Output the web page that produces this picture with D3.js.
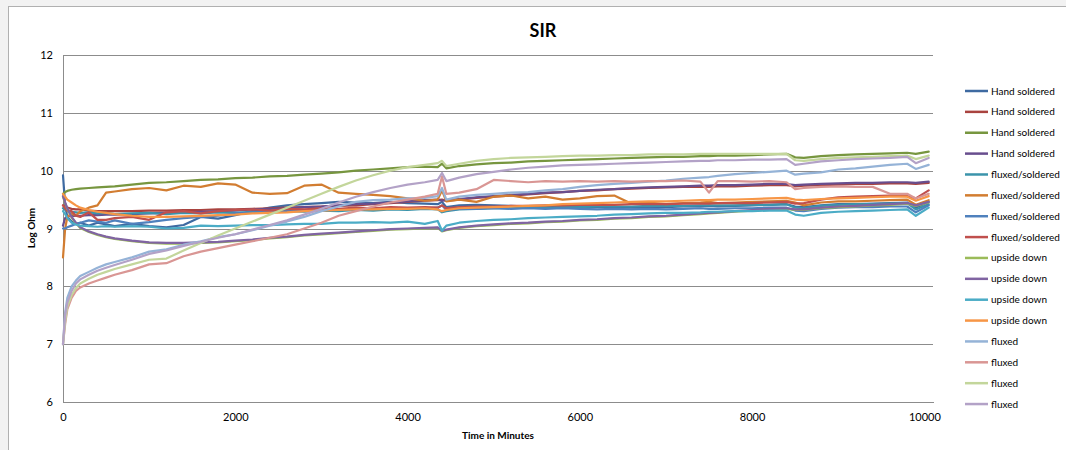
<!DOCTYPE html>
<html><head><meta charset="utf-8">
<script src="https://cdn.jsdelivr.net/npm/d3@7"></script>
<style>body{margin:0;background:#f2f2f2;} svg{display:block;font-family:Lato,"Open Sans",sans-serif;}</style>
</head><body><svg id="c" width="1066" height="450"></svg>
<script>
const times = [0,25,50,100,150,200,300,400,500,600,
  800,1000,1200,1400,1600,1800,2000,2200,2400,2600,
  2800,3000,3200,3400,3600,3800,4000,4200,4350,4400,
  4450,4600,4800,5000,5200,5400,5600,5800,6000,6200,
  6400,6600,6800,7000,7200,7400,7500,7600,7800,8000,
  8200,8400,8500,8600,8800,9000,9200,9400,9600,9800,9900,10050];

const hand1 = [9.92,9.40,9.20,9.12,9.08,9.10,9.05,9.10,9.07,9.04,
  9.08,9.04,9.02,9.06,9.20,9.17,9.23,9.30,9.36,9.40,
  9.42,9.44,9.46,9.45,9.44,9.46,9.44,9.43,9.42,9.46,
  9.37,9.40,9.41,9.40,9.39,9.38,9.38,9.37,9.36,9.37,
  9.37,9.36,9.36,9.37,9.38,9.38,9.39,9.38,9.39,9.40,
  9.41,9.42,9.38,9.37,9.40,9.42,9.42,9.43,9.44,9.45,9.36,9.46];
const hand2 = [9.40,9.38,9.36,9.34,9.33,9.33,9.31,9.30,9.30,9.30,
  9.30,9.31,9.31,9.32,9.32,9.33,9.33,9.34,9.35,9.36,
  9.37,9.38,9.39,9.40,9.42,9.44,9.46,9.48,9.49,9.50,
  9.48,9.50,9.53,9.55,9.57,9.59,9.61,9.63,9.65,9.66,
  9.68,9.69,9.70,9.71,9.72,9.72,9.72,9.73,9.73,9.74,
  9.75,9.75,9.73,9.74,9.75,9.76,9.77,9.77,9.78,9.78,9.77,9.79];
const hand3 = [9.60,9.63,9.65,9.67,9.68,9.69,9.70,9.71,9.72,9.73,
  9.76,9.79,9.80,9.82,9.84,9.85,9.87,9.88,9.90,9.91,
  9.93,9.95,9.97,10.00,10.02,10.04,10.06,10.07,10.06,10.12,
  10.04,10.08,10.11,10.13,10.14,10.16,10.17,10.18,10.19,10.20,
  10.21,10.22,10.23,10.24,10.24,10.25,10.25,10.26,10.26,10.27,
  10.28,10.29,10.23,10.22,10.25,10.27,10.28,10.29,10.30,10.31,10.29,10.33];
const hand4 = [9.05,9.18,9.21,9.22,9.22,9.22,9.23,9.23,9.24,9.24,
  9.25,9.26,9.27,9.28,9.29,9.30,9.31,9.33,9.34,9.35,
  9.37,9.38,9.40,9.42,9.43,9.45,9.47,9.49,9.50,9.48,
  9.49,9.51,9.54,9.56,9.58,9.60,9.62,9.63,9.65,9.67,
  9.68,9.70,9.71,9.72,9.73,9.74,9.74,9.75,9.75,9.76,
  9.77,9.77,9.75,9.76,9.77,9.78,9.79,9.79,9.80,9.80,9.79,9.81];
const fluxSold1 = [9.35,9.32,9.30,9.29,9.28,9.27,9.28,9.26,9.27,9.25,
  9.26,9.27,9.25,9.27,9.26,9.28,9.27,9.29,9.28,9.30,
  9.29,9.31,9.30,9.32,9.31,9.33,9.32,9.34,9.33,9.28,
  9.30,9.33,9.34,9.35,9.35,9.36,9.36,9.37,9.37,9.38,
  9.38,9.38,9.39,9.39,9.39,9.40,9.40,9.40,9.40,9.41,
  9.41,9.42,9.36,9.35,9.39,9.41,9.42,9.42,9.43,9.44,9.33,9.42];
const fluxSold2 = [8.50,9.00,9.20,9.26,9.22,9.30,9.36,9.40,9.62,9.64,
  9.68,9.70,9.66,9.74,9.72,9.78,9.76,9.62,9.60,9.61,
  9.74,9.76,9.62,9.60,9.58,9.56,9.52,9.48,9.50,9.66,
  9.47,9.50,9.46,9.55,9.57,9.52,9.55,9.50,9.52,9.56,
  9.57,9.43,9.45,9.42,9.44,9.45,9.46,9.44,9.45,9.46,
  9.47,9.48,9.45,9.40,9.45,9.47,9.47,9.48,9.49,9.50,9.41,9.49];
const fluxSold3 = [9.00,9.00,9.02,9.05,9.08,9.10,9.14,9.12,9.10,9.14,
  9.08,9.11,9.15,9.18,9.20,9.22,9.26,9.28,9.29,9.30,
  9.31,9.32,9.32,9.33,9.34,9.34,9.35,9.35,9.36,9.40,
  9.32,9.34,9.34,9.35,9.34,9.35,9.34,9.35,9.34,9.33,
  9.34,9.33,9.34,9.33,9.34,9.35,9.34,9.34,9.35,9.35,
  9.36,9.36,9.31,9.30,9.34,9.36,9.37,9.37,9.38,9.38,9.28,9.40];
const fluxSold4 = [9.40,9.35,9.30,9.30,9.22,9.20,9.28,9.15,9.15,9.18,
  9.20,9.15,9.28,9.30,9.26,9.30,9.32,9.33,9.31,9.34,
  9.33,9.35,9.34,9.36,9.35,9.37,9.36,9.37,9.36,9.40,
  9.35,9.37,9.38,9.38,9.39,9.39,9.40,9.40,9.41,9.41,
  9.41,9.42,9.42,9.42,9.43,9.43,9.43,9.44,9.44,9.44,
  9.45,9.46,9.43,9.44,9.50,9.54,9.55,9.56,9.57,9.56,9.52,9.66];
const upside1 = [9.55,9.44,9.34,9.19,9.09,9.01,8.94,8.89,8.85,8.82,
  8.78,8.75,8.74,8.74,8.75,8.76,8.78,8.80,8.83,8.85,
  8.88,8.90,8.92,8.94,8.96,8.98,8.99,9.00,9.01,8.95,
  8.97,9.01,9.04,9.06,9.08,9.09,9.11,9.12,9.14,9.15,
  9.17,9.18,9.20,9.21,9.23,9.25,9.26,9.27,9.29,9.31,
  9.33,9.34,9.32,9.32,9.35,9.37,9.38,9.40,9.41,9.43,9.39,9.45];
const upside2 = [9.56,9.45,9.35,9.20,9.10,9.02,8.95,8.90,8.86,8.83,
  8.79,8.76,8.75,8.75,8.76,8.77,8.79,8.81,8.84,8.86,
  8.89,8.91,8.93,8.95,8.97,8.99,9.00,9.01,9.02,8.96,
  8.98,9.02,9.05,9.07,9.09,9.10,9.12,9.13,9.15,9.16,
  9.18,9.19,9.21,9.22,9.24,9.26,9.27,9.28,9.30,9.32,
  9.34,9.35,9.33,9.33,9.36,9.38,9.39,9.41,9.42,9.44,9.40,9.46];
const upside3 = [9.30,9.25,9.18,9.10,9.07,9.05,9.04,9.03,9.04,9.03,
  9.04,9.03,9.00,9.01,9.05,9.04,9.05,9.06,9.06,9.07,
  9.08,9.08,9.10,9.10,9.11,9.10,9.12,9.08,9.13,8.96,
  9.05,9.10,9.13,9.15,9.16,9.18,9.19,9.20,9.21,9.22,
  9.24,9.25,9.26,9.27,9.27,9.28,9.29,9.29,9.30,9.30,
  9.31,9.31,9.24,9.22,9.27,9.29,9.30,9.31,9.32,9.33,9.22,9.36];
const upside4 = [9.60,9.55,9.50,9.45,9.40,9.36,9.32,9.29,9.27,9.25,
  9.22,9.20,9.20,9.21,9.22,9.23,9.24,9.26,9.27,9.28,
  9.30,9.31,9.32,9.33,9.33,9.34,9.34,9.35,9.33,9.30,
  9.32,9.35,9.36,9.37,9.38,9.39,9.40,9.42,9.43,9.44,
  9.45,9.46,9.47,9.47,9.48,9.49,9.49,9.50,9.50,9.51,
  9.52,9.53,9.50,9.49,9.51,9.52,9.53,9.54,9.55,9.55,9.48,9.56];
const fluxed1 = [7.00,7.55,7.80,8.00,8.10,8.18,8.25,8.32,8.38,8.42,
  8.50,8.60,8.64,8.72,8.78,8.85,8.90,8.97,9.05,9.12,
  9.20,9.30,9.38,9.46,9.49,9.50,9.52,9.53,9.56,9.70,
  9.50,9.55,9.58,9.60,9.62,9.63,9.66,9.68,9.72,9.75,
  9.77,9.79,9.81,9.83,9.86,9.88,9.89,9.91,9.94,9.96,
  9.98,10.00,9.93,9.95,9.97,10.02,10.04,10.07,10.10,10.12,10.03,10.10];
const fluxed2 = [7.00,7.35,7.60,7.80,7.92,7.98,8.05,8.10,8.15,8.20,
  8.28,8.38,8.40,8.52,8.60,8.66,8.72,8.78,8.84,8.90,
  9.00,9.10,9.22,9.30,9.38,9.45,9.50,9.55,9.60,9.90,
  9.60,9.62,9.68,9.84,9.82,9.80,9.82,9.81,9.82,9.81,
  9.82,9.81,9.82,9.82,9.83,9.81,9.62,9.82,9.82,9.81,
  9.82,9.80,9.68,9.70,9.72,9.73,9.72,9.72,9.60,9.60,9.52,9.60];
const fluxed3 = [7.00,7.40,7.65,7.85,7.97,8.05,8.13,8.20,8.25,8.30,
  8.38,8.46,8.48,8.62,8.75,8.88,9.00,9.12,9.24,9.36,
  9.48,9.60,9.72,9.83,9.92,10.00,10.06,10.10,10.13,10.17,
  10.08,10.12,10.17,10.20,10.22,10.23,10.24,10.25,10.26,10.26,
  10.27,10.27,10.28,10.28,10.28,10.29,10.29,10.29,10.29,10.29,
  10.29,10.29,10.18,10.17,10.20,10.22,10.23,10.24,10.25,10.26,10.20,10.26];
const fluxed4 = [7.00,7.50,7.72,7.92,8.05,8.12,8.20,8.27,8.32,8.37,
  8.46,8.56,8.62,8.70,8.77,8.84,8.90,8.98,9.06,9.14,
  9.24,9.34,9.45,9.55,9.63,9.70,9.76,9.80,9.84,9.96,
  9.82,9.88,9.94,9.98,10.02,10.05,10.07,10.09,10.10,10.11,
  10.12,10.13,10.14,10.15,10.16,10.17,10.17,10.18,10.18,10.19,
  10.19,10.20,10.10,10.12,10.16,10.18,10.20,10.21,10.22,10.24,10.13,10.22];

const seriesNames = ["Hand soldered","Hand soldered","Hand soldered","Hand soldered",
  "fluxed/soldered","fluxed/soldered","fluxed/soldered","fluxed/soldered",
  "upside down","upside down","upside down","upside down",
  "fluxed","fluxed","fluxed","fluxed"];
const seriesColors = ["#3E6AA1","#A9433F","#77963F","#684E8E","#3B94AB","#D27D31","#4F81BD","#C0504D",
  "#9BBB59","#8064A2","#4BACC6","#F79646","#95B3D7","#D99694","#C3D69B","#B3A2C7"];
const seriesValues = [hand1,hand2,hand3,hand4,fluxSold1,fluxSold2,fluxSold3,fluxSold4,
  upside1,upside2,upside3,upside4,fluxed1,fluxed2,fluxed3,fluxed4];
const yTicks = [6,7,8,9,10,11,12];
const xTicks = [0,2000,4000,6000,8000,10000];
const chartTitle = "SIR", xTitle = "Time in Minutes", yTitle = "Log Ohm";

const svg = d3.select('#c');
svg.append('rect').attr('width',1066).attr('height',450).attr('fill','#f2f2f2');
svg.append('rect').attr('x',8.5).attr('y',6.5).attr('width',1070).attr('height',460)
  .attr('fill','#fff').attr('stroke','#b0b0b0');

const L = 63, R = 933, T = 55, B = 402;
const x = d3.scaleLinear().domain([0,10100]).range([L,R]);
const y = d3.scaleLinear().domain([6,12]).range([B,T]);

const ya = svg.append('g').attr('transform',`translate(${L},0)`)
  .call(d3.axisLeft(y).tickValues(yTicks).tickSize(-(R-L)).tickSizeOuter(0).tickPadding(10).tickFormat(d3.format('d')));
ya.selectAll('.tick line').attr('stroke','#8c8c8c').attr('shape-rendering','crispEdges');
ya.select('.domain').attr('stroke','#8c8c8c').attr('shape-rendering','crispEdges');
ya.selectAll('text').attr('font-size',11).attr('fill','#000').attr('font-family','Lato');

const xa = svg.append('g').attr('transform',`translate(0,${B})`)
  .call(d3.axisBottom(x).tickValues(xTicks).tickSize(0).tickSizeOuter(0).tickPadding(11).tickFormat(d3.format('d')));
xa.select('.domain').attr('stroke','#8c8c8c').attr('shape-rendering','crispEdges');
xa.selectAll('text').attr('font-size',11).attr('fill','#000').attr('font-family','Lato');

const line = d3.line().x((d,i)=>x(times[i])).y(d=>y(d));
const lg = svg.append('g').attr('fill','none');
seriesValues.forEach((vals,k)=>{
  lg.append('path').datum(vals).attr('d',line)
    .attr('stroke',seriesColors[k]).attr('stroke-width',2.2)
    .attr('stroke-linejoin','round').attr('stroke-linecap','round');
});

svg.append('text').attr('x',543).attr('y',37).attr('text-anchor','middle')
  .attr('font-size',18).attr('font-weight','bold').text(chartTitle);
svg.append('text').attr('x',498).attr('y',439).attr('text-anchor','middle')
  .attr('font-size',10).attr('font-weight','bold').text(xTitle);
svg.append('text').attr('transform','translate(35,228) rotate(-90)').attr('text-anchor','middle')
  .attr('font-size',10).attr('font-weight','bold').text(yTitle);

const leg = svg.append('g');
seriesNames.forEach((n,k)=>{
  const yy = 91 + k*20.87;
  leg.append('line').attr('x1',965).attr('x2',988).attr('y1',yy).attr('y2',yy)
    .attr('stroke',seriesColors[k]).attr('stroke-width',2.5);
  leg.append('text').attr('x',991).attr('y',yy).attr('dy','0.35em')
    .attr('font-size',10).text(n);
});
</script></body></html>
